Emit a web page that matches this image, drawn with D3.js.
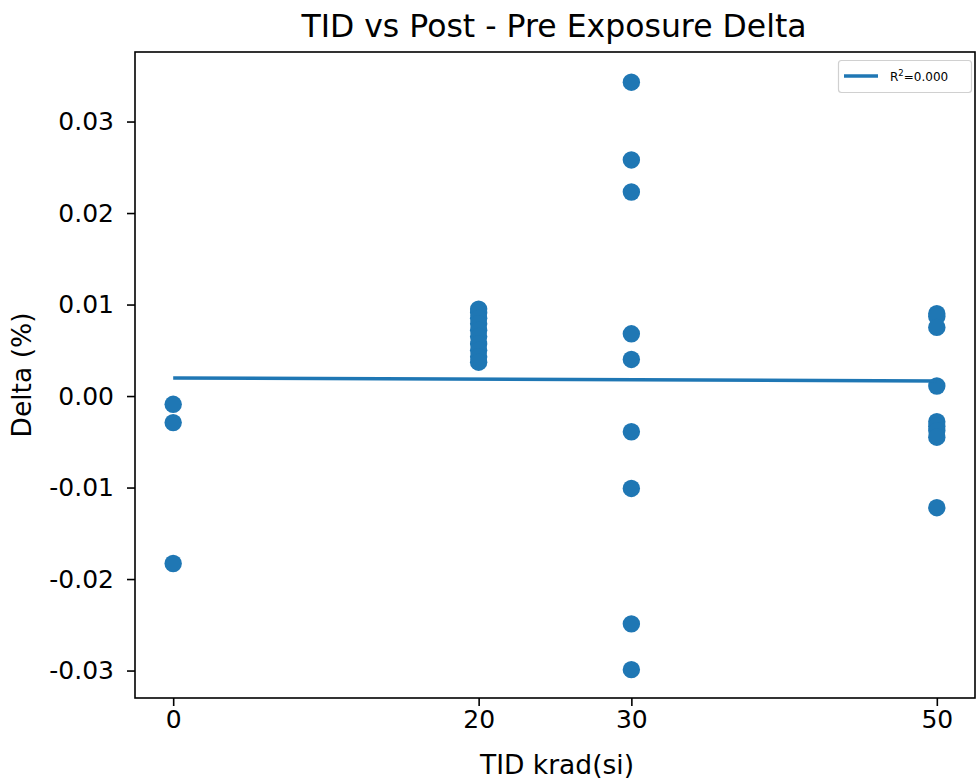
<!DOCTYPE html>
<html>
<head>
<meta charset="utf-8">
<script src="https://cdn.jsdelivr.net/npm/d3@7"></script>
<style>
  body { margin: 0; background: #fff; }
  svg { display: block; font-family: "DejaVu Sans", sans-serif; }
</style>
</head>
<body>
<svg id="chart" width="978" height="783"></svg>
<script>
// ---- data ----
const tidValues = [0, 0, 0,
  20, 20, 20, 20, 20, 20, 20, 20, 20, 20,
  30, 30, 30, 30, 30, 30, 30, 30, 30,
  50, 50, 50, 50, 50, 50, 50, 50, 50];
const deltaValues = [-0.0009, -0.0029, -0.0183,
  0.0095, 0.0091, 0.0085, 0.0079, 0.0072, 0.0065, 0.0057, 0.0050, 0.0043, 0.0037,
  0.0343, 0.0258, 0.0223, 0.0068, 0.0040, -0.0039, -0.0101, -0.0249, -0.0299,
  0.0090, 0.0087, 0.0075, 0.0011, -0.0028, -0.0033, -0.0038, -0.0045, -0.0122];
const xTicks = [0, 20, 30, 50];
const yTicks = [-0.03, -0.02, -0.01, 0.00, 0.01, 0.02, 0.03];
const fitX = [0, 50];
const fitY = [0.00198, 0.00165];

// ---- layout ----
const svg = d3.select("#chart");
const mLeft = 135, mRight = 975, mTop = 52, mBottom = 698;
const color = "#1f77b4";
const tickFont = 25;

const x = d3.scaleLinear().domain([-2.5, 52.5]).range([mLeft, mRight]);
const y = d3.scaleLinear().domain([-0.0330, 0.0376]).range([mBottom, mTop]);

// points
svg.append("g").selectAll("circle")
  .data(tidValues.map((t, i) => [t, deltaValues[i]]))
  .join("circle")
  .attr("cx", d => x(d[0]))
  .attr("cy", d => y(d[1]))
  .attr("r", 8.7)
  .attr("fill", color);

// fit line
svg.append("path")
  .datum(fitX.map((v, i) => [v, fitY[i]]))
  .attr("d", d3.line().x(d => x(d[0])).y(d => y(d[1])))
  .attr("stroke", color)
  .attr("stroke-width", 3.5)
  .attr("fill", "none");

// axes
const xAxis = svg.append("g")
  .attr("transform", `translate(0,${mBottom})`)
  .call(d3.axisBottom(x).tickValues(xTicks).tickFormat(d3.format("d")).tickSizeOuter(0).tickSize(8).tickPadding(4));
const yAxis = svg.append("g")
  .attr("transform", `translate(${mLeft},0)`)
  .call(d3.axisLeft(y).tickValues(yTicks)
    .tickFormat(d => d3.format(".2f")(d).replace("−", "-"))
    .tickSizeOuter(0).tickSize(8).tickPadding(13));
[xAxis, yAxis].forEach(g => {
  g.select(".domain").remove();
  g.selectAll("line").attr("stroke", "#000").attr("stroke-width", 1.6);
  g.selectAll("text").attr("font-size", tickFont).attr("fill", "#000")
    .attr("font-family", "DejaVu Sans, sans-serif");
});

// frame
svg.append("rect")
  .attr("x", mLeft).attr("y", mTop)
  .attr("width", mRight - mLeft).attr("height", mBottom - mTop)
  .attr("fill", "none").attr("stroke", "#000").attr("stroke-width", 1.6);

// title and labels
svg.append("text").attr("x", (mLeft + mRight) / 2 - 1).attr("y", 37)
  .attr("text-anchor", "middle").attr("font-size", 31.5)
  .text("TID vs Post - Pre Exposure Delta");
svg.append("text").attr("x", (mLeft + mRight) / 2 + 2).attr("y", 774)
  .attr("text-anchor", "middle").attr("font-size", 26.5)
  .text("TID krad(si)");
svg.append("text")
  .attr("transform", `translate(31,${(mTop + mBottom) / 2}) rotate(-90)`)
  .attr("text-anchor", "middle").attr("font-size", 26.5)
  .text("Delta (%)");

// legend
const lg = svg.append("g");
lg.append("rect").attr("x", 838.5).attr("y", 60.5).attr("width", 133).attr("height", 32)
  .attr("rx", 3).attr("fill", "#fff").attr("fill-opacity", 0.8)
  .attr("stroke", "#d0d0d0").attr("stroke-width", 1.2);
lg.append("line").attr("x1", 844).attr("x2", 878).attr("y1", 76).attr("y2", 76)
  .attr("stroke", color).attr("stroke-width", 3.5);
const lt = lg.append("text").attr("x", 890).attr("y", 80.5).attr("font-size", 12);
lt.append("tspan").text("R");
lt.append("tspan").attr("dy", -4.5).attr("font-size", 8.5).text("2");
lt.append("tspan").attr("dy", 4.5).text("=0.000");
</script>
</body>
</html>
